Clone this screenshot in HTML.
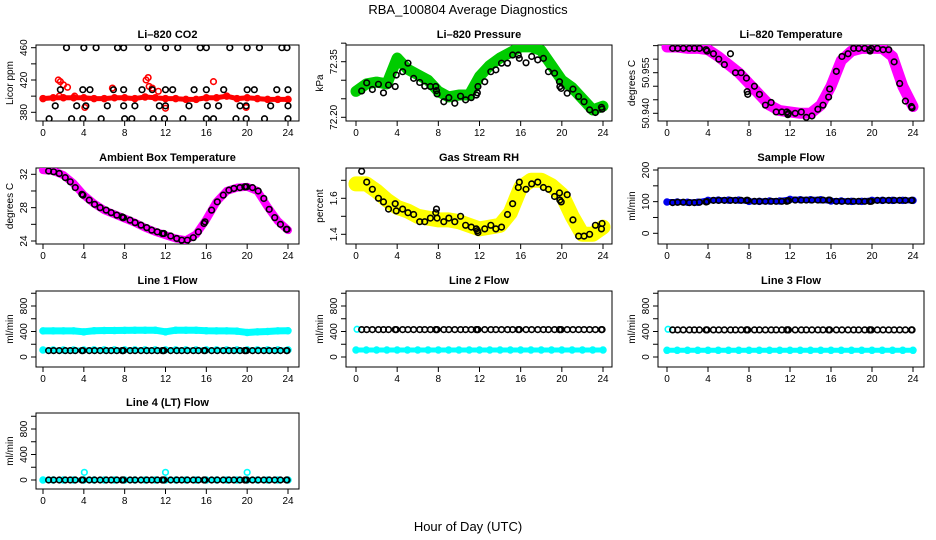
<!DOCTYPE html>
<html><head><meta charset="utf-8"><title>RBA_100804 Average Diagnostics</title>
<style>html,body{margin:0;padding:0;background:#fff;}svg{display:block;font-family:"Liberation Sans",Arial,sans-serif;}</style>
</head><body>
<svg id="chart" width="936" height="540" viewBox="0 0 936 540" xmlns="http://www.w3.org/2000/svg">
<text x="468" y="14" text-anchor="middle" font-size="13">RBA_100804  Average Diagnostics</text>
<text x="468" y="531" text-anchor="middle" font-size="13">Hour of Day (UTC)</text>
</svg>
<script>
// ---- shared time arrays ----
const blackHours = [0.55,1.04,1.59,2.18,2.67,3.16,3.81,3.91,4.53,5.05,5.6,6.19,6.68,7.23,7.75,7.82,7.88,8.53,9.02,9.6,10.16,10.65,11.2,11.69,11.79,11.85,12.51,13.1,13.59,14.14,14.72,15.22,15.77,15.87,16.52,17.07,17.66,18.21,18.7,19.29,19.77,19.81,19.94,20.52,21.08,21.63,22.16,22.7,23.26,23.85,23.91];
const bandHours = [0,1,2,3,4,5,6,7,8,9,10,11,12,13,14,15,16,17,18,19,20,21,22,23,24];
const xTicks = [0,4,8,12,16,20,24];

// ---- CO2 ----
const co2BlackHours = [2.3,4.0,5.2,7.3,7.9,10.3,12.0,13.2,15.4,16.0,18.3,20.0,21.2,23.4,23.9, 1.7,3.9,4.6,6.9,7.9,9.7,10.7,12.0,12.7,14.8,16.0,17.7,20.0,20.7,22.9,24.0, 1.2,3.3,4.2,6.3,7.9,9.0,11.4,12.0,14.3,16.1,17.2,19.3,19.9,22.3,24.0, 0.6,2.8,3.9,5.7,8.0,8.7,10.8,11.9,13.7,16.0,16.7,18.9,19.9,21.7,24.0];
const co2Black = [460,460,460,460,460,460,460,460,460,460,460,460,460,460,460, 408,408,408,408,408,408,408,408,408,408,408,408,408,408,408,408, 388,388,388,388,388,388,388,388,388,388,388,388,388,388,388, 372,372,372,372,372,372,372,372,372,372,372,372,372,372,372];
const co2Band = [397,398,398,398,398,397,397,398,398,397,399,398,397,397,396,396,398,398,400,397,398,397,396,396,396];
const co2OutHours = [1.5,1.7,2.0,2.4,3.1,4.1,6.8,10.1,10.3,10.4,10.7,11.3,12.0,16.7,19.9,1.6];
const co2Out = [420,418,414,411,400,386,410,420,423,412,410,406,385,418,386,400];

// ---- Pressure ----
const presBlack = [72.271,72.293,72.275,72.289,72.266,72.287,72.283,72.314,72.323,72.346,72.305,72.294,72.284,72.283,72.283,72.272,72.263,72.242,72.253,72.238,72.257,72.247,72.253,72.260,72.266,72.283,72.296,72.323,72.328,72.346,72.346,72.368,72.368,72.359,72.347,72.364,72.355,72.359,72.323,72.319,72.296,72.283,72.278,72.265,72.276,72.256,72.242,72.220,72.213,72.227,72.222];
const presBand = [72.27,72.29,72.295,72.29,72.36,72.33,72.315,72.30,72.27,72.255,72.26,72.26,72.31,72.34,72.36,72.375,72.39,72.39,72.38,72.34,72.30,72.28,72.25,72.22,72.23];

// ---- Li-820 Temperature ----
const tempBlack = [50.964,50.964,50.964,50.964,50.964,50.964,50.9635,50.963,50.962,50.960,50.958,50.962,50.955,50.955,50.953,50.948,50.947,50.950,50.947,50.943,50.944,50.9405,50.9405,50.9405,50.9395,50.940,50.940,50.9405,50.9385,50.939,50.9415,50.943,50.946,50.949,50.9555,50.961,50.962,50.964,50.964,50.964,50.9635,50.963,50.964,50.964,50.9635,50.9635,50.959,50.951,50.9445,50.9425,50.942];
const tempBand = [50.9645,50.9645,50.964,50.964,50.9635,50.961,50.958,50.955,50.951,50.947,50.943,50.941,50.9405,50.940,50.940,50.943,50.950,50.9595,50.963,50.964,50.964,50.964,50.961,50.950,50.9425];

// ---- Ambient Box Temperature ----
const ambBlack = [32.4,32.3,32.1,31.6,31.1,30.4,29.6,29.5,28.9,28.4,28.0,27.7,27.4,27.1,26.9,26.8,26.8,26.5,26.2,25.9,25.6,25.3,25.1,24.9,24.9,24.9,24.6,24.3,24.1,24.1,24.4,25.1,26.1,26.3,27.7,28.7,29.5,30.1,30.3,30.4,30.5,30.5,30.5,30.4,30.0,29.1,27.8,26.8,26.0,25.4,25.4];
const ambBand = [32.5,32.4,31.9,30.9,29.5,28.5,27.7,27.2,26.7,26.2,25.6,25.1,24.7,24.3,24.1,24.8,26.6,28.7,30.0,30.4,30.5,30.0,28.1,26.4,25.3];

// ---- Gas Stream RH ----
const rhBlack = [1.75,1.69,1.65,1.60,1.58,1.54,1.57,1.53,1.54,1.52,1.51,1.47,1.47,1.49,1.52,1.54,1.49,1.47,1.49,1.47,1.50,1.45,1.44,1.43,1.42,1.41,1.43,1.45,1.43,1.44,1.51,1.57,1.66,1.69,1.65,1.68,1.69,1.66,1.65,1.61,1.63,1.59,1.58,1.62,1.48,1.39,1.39,1.40,1.45,1.43,1.46];
const rhBand = [1.68,1.68,1.64,1.59,1.55,1.53,1.50,1.49,1.48,1.48,1.47,1.45,1.43,1.44,1.45,1.52,1.66,1.70,1.70,1.67,1.62,1.50,1.40,1.40,1.44];

// ---- Sample Flow ----
const sampleBlack = [97,98,98,97,97,98,99,100,104,104,104,104,104,104,104,104,104,101,101,101,101,101,101,101,103,103,105,105,105,105,105,105,105,105,101,101,101,101,101,101,101,101,101,104,104,104,104,104,104,104,104];
const sampleBand = [99,99,98,98,104,105,105,105,101,101,102,102,107,106,106,106,102,102,101,101,104,104,104,104,104];

// ---- Line flows ----
const line1Black = [100,100,100,100,100,100,100,100,100,100,100,100,100,100,100,100,100,100,100,100,100,100,100,100,100,100,100,100,100,100,100,100,100,100,100,100,100,100,100,100,100,100,100,100,100,100,100,100,100,100,100];
const line1BandHigh = [410,410,410,410,395,412,415,415,418,420,420,420,395,420,420,420,412,410,410,405,385,395,400,410,412];
const line1BandLow = [110,110,110,110,110,112,112,112,112,112,112,112,112,112,112,112,112,112,112,112,112,112,112,112,112];
const line2Black = [430,430,430,430,430,430,430,430,430,430,430,430,430,430,430,430,430,430,430,430,430,430,430,430,430,430,430,430,430,430,430,430,430,430,430,430,430,430,430,430,430,430,430,430,430,430,430,430,430,430,430];
const line2Band = [110,110,110,110,110,110,110,110,110,110,110,110,110,110,110,110,110,110,110,110,110,110,110,110,110];
const line3Black = [425,425,425,425,425,425,425,425,425,425,425,425,425,425,425,425,425,425,425,425,425,425,425,425,425,425,425,425,425,425,425,425,425,425,425,425,425,425,425,425,425,425,425,425,425,425,425,425,425,425,425];
const line3Band = [105,105,105,105,105,105,105,105,105,105,105,105,105,105,105,105,105,105,105,105,105,105,105,105,105];
const startHours = [0.1];
const line23Start = [435];
const line4Black = [0,0,0,0,0,0,0,0,0,0,0,0,0,0,0,0,0,0,0,0,0,0,0,0,0,0,0,0,0,0,0,0,0,0,0,0,0,0,0,0,0,0,0,0,0,0,0,0,0,0,0];
const line4Band = [0,0,0,0,0,0,0,0,0,0,0,0,0,0,0,0,0,0,0,0,0,0,0,0,0];
const line4SpikeHours = [4.05,12.0,20.0];
const line4Spike = [120,120,120];

const NS = "http://www.w3.org/2000/svg";
const svg = document.getElementById('chart');
const colL = [36,346,658], colR = [299,612,924], colX0 = [43,356,667], colW = [245,247,246];
const rowT = [45,168,291,413], rowB = [121,244,367,489];

function mk(tag, attrs, parent){
  const e = document.createElementNS(NS, tag);
  for (const k in attrs) e.setAttribute(k, attrs[k]);
  (parent||svg).appendChild(e);
  return e;
}

function makePanel(p){
  const g = mk('g', {});
  
  
  const L = colL[p.col], R = colR[p.col], T = rowT[p.row], B = rowB[p.row];
  const xs = h => colX0[p.col] + h * colW[p.col] / 24;
  const ys = v => p.py0 + (v - p.v0) * (p.py1 - p.py0) / (p.v1 - p.v0);
  const t = mk('text', {x:(L+R)/2, y:T-7, 'text-anchor':'middle', 'font-size':11, 'font-weight':'bold'}, g);
  t.textContent = p.title;
  
  
  const box = mk('rect', {x:L, y:T, width:R-L, height:B-T, fill:'none', stroke:'#000', 'stroke-width':1}, g);
  
  
  // x axis
  const xa = mk('g', {}, g);
  
  
  mk('line', {x1:xs(0), x2:xs(24), y1:B, y2:B, stroke:'#000'}, xa);
  xTicks.forEach(v => {
    mk('line', {x1:xs(v), x2:xs(v), y1:B, y2:B+5, stroke:'#000'}, xa);
    const tl = mk('text', {x:xs(v), y:B+15, 'text-anchor':'middle', 'font-size':10}, xa);
    tl.textContent = v;
    
    
  });
  // y axis
  const ya = mk('g', {}, g);
  
  
  mk('line', {x1:L, x2:L, y1:ys(p.yticks[0]), y2:ys(p.yticks[p.yticks.length-1]), stroke:'#000'}, ya);
  p.yticks.forEach(v => {
    mk('line', {x1:L-5, x2:L, y1:ys(v), y2:ys(v), stroke:'#000'}, ya);
  });
  p.ylabels.forEach(v => {
    const yy = ys(v);
    const tl = mk('text', {x:L-9, y:yy, 'text-anchor':'middle', 'font-size':10, transform:`rotate(-90 ${L-9} ${yy})`}, ya);
    tl.textContent = p.fmt ? p.fmt(v) : v;
    
    
  });
  const yt = mk('text', {x:L-23, y:(T+B)/2, 'text-anchor':'middle', 'font-size':10, transform:`rotate(-90 ${L-23} ${(T+B)/2})`}, g);
  yt.textContent = p.ylab;
  
  
  const clip = 'clip' + p.name;
  const cp = mk('clipPath', {id:clip}, g);
  mk('rect', {x:L, y:T, width:R-L, height:B-T}, cp);
  const d = mk('g', {'clip-path':`url(#${clip})`}, g);
  
  
  return {g:d, xs, ys};
}

function band(P, hours, vals, color, w, name){
  const pts = hours.map((h,i) => `${P.xs(h)},${P.ys(vals[i])}`).join(' ');
  const pl = mk('polyline', {points:pts, fill:'none', stroke:color, 'stroke-width':w, 'stroke-linejoin':'round', 'stroke-linecap':'round'}, P.g);
  
  
  hours.forEach((h,i) => {
    const c = mk('circle', {cx:P.xs(h), cy:P.ys(vals[i]), r:3, fill:'none', stroke:color, 'stroke-width':1.5}, P.g);
    
    
  });
}
function points(P, hours, vals, color, name){
  const n = Math.min(hours.length, vals.length);
  for (let i=0;i<n;i++){
    const c = mk('circle', {cx:P.xs(hours[i]), cy:P.ys(vals[i]), r:2.8, fill:'none', stroke:color, 'stroke-width':1.6}, P.g);
    
    
  }
}

// CO2
let P = makePanel({name:'co2-panel', col:0,row:0,title:'Li\u2013820 CO2', ylab:'Licor ppm', v0:460,py0:47.7,v1:380,py1:112.3, yticks:[380,400,420,440,460], ylabels:[380,420,460]});
band(P, bandHours, co2Band, '#ff0000', 5, 'co2-band');
points(P, co2OutHours, co2Out, '#ff0000', 'co2-outlier');
points(P, co2BlackHours, co2Black, '#000', 'co2-average-point');

P = makePanel({name:'pressure-panel', col:1,row:0,title:'Li\u2013820 Pressure', ylab:'kPa', v0:72.35,py0:61.7,v1:72.20,py1:117.3, yticks:[72.20,72.25,72.30,72.35,72.40], ylabels:[72.20,72.35], fmt:v=>v.toFixed(2)});
band(P, bandHours, presBand, '#00cc00', 11, 'pressure-band');
points(P, blackHours, presBlack, '#000', 'pressure-average-point');

P = makePanel({name:'temperature-panel', col:2,row:0,title:'Li\u2013820 Temperature', ylab:'degrees C', v0:50.940,py0:113.3,v1:50.955,py1:72.7, yticks:[50.940,50.945,50.950,50.955,50.960,50.965], ylabels:[50.940,50.955], fmt:v=>v.toFixed(3)});
band(P, bandHours, tempBand, '#ff00ff', 11, 'temperature-band');
points(P, blackHours, tempBlack, '#000', 'temperature-average-point');

P = makePanel({name:'ambient-panel', col:0,row:1,title:'Ambient Box Temperature', ylab:'degrees C', v0:32,py0:174.3,v1:24,py1:241, yticks:[24,26,28,30,32], ylabels:[24,28,32]});
band(P, bandHours, ambBand, '#ff00ff', 8, 'ambient-band');
points(P, blackHours, ambBlack, '#000', 'ambient-average-point');

P = makePanel({name:'rh-panel', col:1,row:1,title:'Gas Stream RH', ylab:'percent', v0:1.4,py0:234.3,v1:1.6,py1:198.3, yticks:[1.4,1.5,1.6,1.7], ylabels:[1.4,1.6], fmt:v=>v.toFixed(1)});
band(P, bandHours, rhBand, '#ffff00', 15, 'rh-band');
points(P, blackHours, rhBlack, '#000', 'rh-average-point');

P = makePanel({name:'sample-flow-panel', col:2,row:1,title:'Sample Flow', ylab:'ml/min', v0:0,py0:233.3,v1:200,py1:170, yticks:[0,50,100,150,200], ylabels:[0,100,200]});
band(P, bandHours, sampleBand, '#0000ee', 6, 'sample-flow-band');
points(P, blackHours, sampleBlack, '#000', 'sample-flow-average-point');

const flowTicks = [0,200,400,600,800,1000];
P = makePanel({name:'line1-flow-panel', col:0,row:2,title:'Line 1 Flow', ylab:'ml/min', v0:0,py0:357,v1:800,py1:306, yticks:flowTicks, ylabels:[0,400,800]});
band(P, bandHours, line1BandHigh, '#00ffff', 7, 'line1-high-band');
band(P, bandHours, line1BandLow, '#00ffff', 5, 'line1-low-band');
points(P, blackHours, line1Black, '#000', 'line1-average-point');

P = makePanel({name:'line2-flow-panel', col:1,row:2,title:'Line 2 Flow', ylab:'ml/min', v0:0,py0:357,v1:800,py1:306, yticks:flowTicks, ylabels:[0,400,800]});
band(P, bandHours, line2Band, '#00ffff', 5, 'line2-band');
points(P, startHours, line23Start, '#00ffff', 'line2-start-point');
points(P, blackHours, line2Black, '#000', 'line2-average-point');

P = makePanel({name:'line3-flow-panel', col:2,row:2,title:'Line 3 Flow', ylab:'ml/min', v0:0,py0:357,v1:800,py1:306, yticks:flowTicks, ylabels:[0,400,800]});
band(P, bandHours, line3Band, '#00ffff', 5, 'line3-band');
points(P, startHours, line23Start, '#00ffff', 'line3-start-point');
points(P, blackHours, line3Black, '#000', 'line3-average-point');

P = makePanel({name:'line4-flow-panel', col:0,row:3,title:'Line 4 (LT) Flow', ylab:'ml/min', v0:0,py0:480,v1:800,py1:429, yticks:flowTicks, ylabels:[0,400,800]});
band(P, bandHours, line4Band, '#00ffff', 5, 'line4-band');
points(P, line4SpikeHours, line4Spike, '#00ffff', 'line4-spike');
points(P, blackHours, line4Black, '#000', 'line4-average-point');
</script>
</body></html>
